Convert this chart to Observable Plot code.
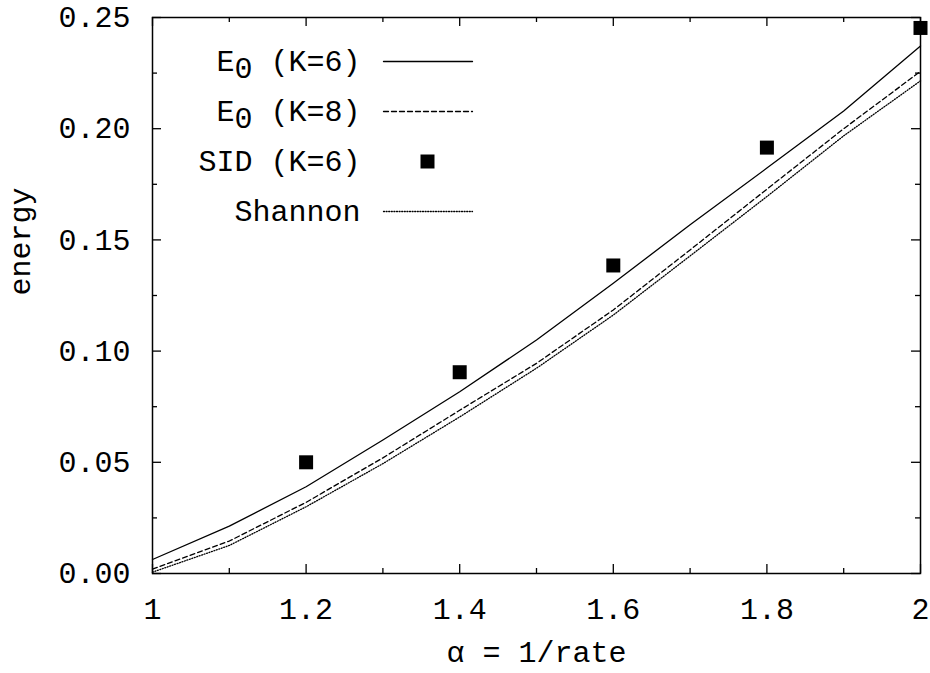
<!DOCTYPE html>
<html>
<head>
<meta charset="utf-8">
<script src="https://cdn.jsdelivr.net/npm/d3@7"></script>
<script src="https://cdn.jsdelivr.net/npm/@observablehq/plot@0.6"></script>
<style>
  html, body { margin: 0; padding: 0; background: #fff; }
  #chart svg text { white-space: pre; }
</style>
</head>
<body>
<div id="chart"></div>
<script>
// ---- data ----
const alpha     = [1.0, 1.1, 1.2, 1.3, 1.4, 1.5, 1.6, 1.7, 1.8, 1.9, 2.0];
const e0K6      = [0.0063, 0.0213, 0.0390, 0.0600, 0.0817, 0.1050, 0.1305, 0.1568, 0.1823, 0.2080, 0.2372];
const e0K8      = [0.0020, 0.0146, 0.0320, 0.0520, 0.0734, 0.0945, 0.1185, 0.1455, 0.1728, 0.2000, 0.2258];
const shannon   = [0.0006, 0.0126, 0.0300, 0.0494, 0.0704, 0.0923, 0.1162, 0.1428, 0.1695, 0.1968, 0.2215];
const sidAlpha  = [1.2, 1.4, 1.6, 1.8, 2.0];
const sidEnergy = [0.0500, 0.0905, 0.1385, 0.1915, 0.2453];

const xTicks      = [1, 1.2, 1.4, 1.6, 1.8, 2];
const xMinorTicks = [1.1, 1.3, 1.5, 1.7, 1.9];
const yTicks      = [0, 0.05, 0.10, 0.15, 0.20, 0.25];
const yMinorTicks = [0.025, 0.075, 0.125, 0.175, 0.225];

const legendLabels = ["E_0 (K=6)", "E_0 (K=8)", "SID (K=6)", "Shannon"];
const xLabel = "α = 1/rate";
const yLabel = "energy";

// ---- layout ----
const W = 930, H = 673;
const mL = 152, mR = 10, mT = 17, mB = 100;
const plotW = W - mL - mR, plotH = H - mT - mB;
const majorLen = 9, minorLen = 5;

const rows = (ys) => alpha.map((a, i) => ({x: a, y: ys[i]}));
const sid = sidAlpha.map((a, i) => ({x: a, y: sidEnergy[i]}));

const lineStyles = [
  {dash: null},
  {dash: "5,3"},
  {dash: null, square: true},
  {dash: "1,1.6"}
];

const lineShape = {draw(ctx, l) { ctx.moveTo(0, 0); ctx.lineTo(0, -l); }};

const legendMarks = [];
legendLabels.forEach((lab, i) => {
  const dy = 44 + i * 50;
  legendMarks.push(Plot.text([lab], {
    text: d => d, frameAnchor: "top-left", dx: 208, dy,
    textAnchor: "end", lineAnchor: "middle", fill: "black"
  }));
  const st = lineStyles[i];
  if (st.square) {
    legendMarks.push(Plot.dot([lab], {
      frameAnchor: "top-left", dx: 275, dy, symbol: "square", r: 7.9, fill: "black", stroke: "none"
    }));
  } else {
    legendMarks.push(Plot.vector([lab], {
      frameAnchor: "top-left", dx: 231, dy, length: 89, rotate: 90, anchor: "start",
      shape: lineShape, stroke: "black", strokeWidth: 1.3,
      strokeDasharray: st.dash ?? undefined
    }));
  }
});

const chart = Plot.plot({
  width: W, height: H,
  marginLeft: mL, marginRight: mR, marginTop: mT, marginBottom: mB,
  style: {
    fontFamily: "'Liberation Mono', 'DejaVu Sans Mono', monospace",
    fontSize: "30px", color: "black", background: "white", overflow: "visible"
  },
  x: {domain: [1, 2]},
  y: {domain: [0, 0.25]},
  marks: [
    Plot.axisX({ticks: xTicks, tickSize: 0, tickPadding: 24, tickFormat: d => String(d), label: null}),
    Plot.axisY({ticks: yTicks, tickSize: 0, tickPadding: 22, tickFormat: d3.format(".2f"), label: null}),
    // inward ticks on all four sides
    Plot.ruleX(xTicks, {x: d => d, insetTop: plotH - majorLen, stroke: "black", strokeWidth: 1.3}),
    Plot.ruleX(xTicks, {x: d => d, insetBottom: plotH - majorLen, stroke: "black", strokeWidth: 1.3}),
    Plot.ruleX(xMinorTicks, {x: d => d, insetTop: plotH - minorLen, stroke: "black", strokeWidth: 1.3}),
    Plot.ruleX(xMinorTicks, {x: d => d, insetBottom: plotH - minorLen, stroke: "black", strokeWidth: 1.3}),
    Plot.ruleY(yTicks, {y: d => d, insetRight: plotW - majorLen, stroke: "black", strokeWidth: 1.3}),
    Plot.ruleY(yTicks, {y: d => d, insetLeft: plotW - majorLen, stroke: "black", strokeWidth: 1.3}),
    Plot.ruleY(yMinorTicks, {y: d => d, insetRight: plotW - minorLen, stroke: "black", strokeWidth: 1.3}),
    Plot.ruleY(yMinorTicks, {y: d => d, insetLeft: plotW - minorLen, stroke: "black", strokeWidth: 1.3}),
    // series
    Plot.line(rows(e0K6), {x: "x", y: "y", stroke: "black", strokeWidth: 1.3}),
    Plot.line(rows(e0K8), {x: "x", y: "y", stroke: "black", strokeWidth: 1.3, strokeDasharray: "5,3"}),
    Plot.line(rows(shannon), {x: "x", y: "y", stroke: "black", strokeWidth: 1.3, strokeDasharray: "1,1.6"}),
    Plot.dot(sid, {x: "x", y: "y", symbol: "square", r: 7.9, fill: "black", stroke: "none"}),
    Plot.frame({stroke: "black", strokeWidth: 1.5}),
    // axis titles
    Plot.text([xLabel], {text: d => d, frameAnchor: "bottom", dy: 79, lineAnchor: "middle", fill: "black"}),
    Plot.text([yLabel], {text: d => d, frameAnchor: "left", dx: -132, rotate: -90, lineAnchor: "middle", fill: "black"}),
    ...legendMarks
  ]
});

document.getElementById("chart").appendChild(chart);

// subscript "0" in the legend labels
d3.select(chart).selectAll("text")
  .filter(function () { return this.textContent.includes("_0"); })
  .each(function () {
    const parts = this.textContent.split("_0");
    const t = d3.select(this);
    t.text(null);
    t.append("tspan").text(parts[0]);
    t.append("tspan").attr("dy", 7).text("0");
    t.append("tspan").attr("dy", -7).text(parts[1]);
  });
</script>
</body>
</html>
